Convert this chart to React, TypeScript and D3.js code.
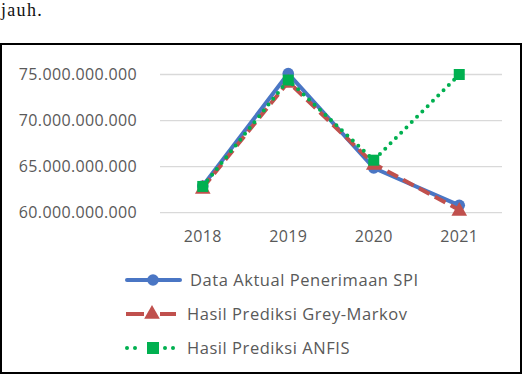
import React from "react";
import * as d3 from "d3";

const years = ["2018", "2019", "2020", "2021"];
const aktual = [62.9e9, 75.1e9, 64.85e9, 60.8e9];
const greyMarkov = [62.7e9, 74.2e9, 65.3e9, 60.3e9];
const anfis = [62.85e9, 74.4e9, 65.7e9, 75.0e9];
const yTicks = [60e9, 65e9, 70e9, 75e9];
const legendLabels = [
  "Data Aktual Penerimaan SPI",
  "Hasil Prediksi Grey-Markov",
  "Hasil Prediksi ANFIS",
];

const BLUE = "#4A76C4";
const RED = "#C0504D";
const GREEN = "#00B050";
const FONT = "'Open Sans', 'Noto Sans', sans-serif";

function fmt(v: number) {
  return d3.format(",")(v).replace(/,/g, ".");
}

export default function App() {
  const x = d3.scaleBand<string>().domain(years).range([160, 502]);
  const y = d3.scaleLinear().domain([60e9, 75e9]).range([212.7, 74.5]);
  const cx = (d: string) => (x(d) as number) + x.bandwidth() / 2;
  const line = d3
    .line<number>()
    .x((_, i) => cx(years[i]))
    .y((v) => y(v));

  const tri = (px: number, py: number, s: number) =>
    `M${px},${py - s * 0.62} L${px + s * 0.6},${py + s * 0.45} L${px - s * 0.6},${py + s * 0.45} Z`;

  return (
    <svg
      width={526}
      height={376}
      style={{ position: "absolute", left: 0, top: 0, background: "#fff" }}
    >
      <text
        x={1}
        y={16}
        fontFamily="'Liberation Serif', serif"
        fontSize={18}
        letterSpacing={1.3}
        fill="#111"
      >
        jauh.
      </text>
      <rect x={1} y={44} width={520} height={329} fill="none" stroke="#000" strokeWidth={2} />

      {yTicks.map((t) => (
        <g key={t}>
          <line x1={160} x2={502} y1={y(t)} y2={y(t)} stroke="#D9D9D9" strokeWidth={1.3} />
          <text
            x={137}
            y={y(t)}
            dy="0.36em"
            textAnchor="end"
            fontFamily={FONT}
            fontSize={16}
            letterSpacing={0.35}
            fill="#595959"
          >
            {fmt(t)}
          </text>
        </g>
      ))}

      {years.map((yr) => (
        <text
          key={yr}
          x={cx(yr)}
          y={242}
          textAnchor="middle"
          fontFamily={FONT}
          fontSize={16}
          letterSpacing={0.3}
          fill="#595959"
        >
          {yr}
        </text>
      ))}

      {/* Actual */}
      <path d={line(aktual) || ""} fill="none" stroke={BLUE} strokeWidth={4} strokeLinejoin="round" />
      {aktual.map((v, i) => (
        <circle key={i} cx={cx(years[i])} cy={y(v)} r={5.8} fill={BLUE} />
      ))}

      {/* Grey-Markov */}
      <path
        d={line(greyMarkov) || ""}
        fill="none"
        stroke={RED}
        strokeWidth={4}
        strokeDasharray="12 6"
      />
      {greyMarkov.map((v, i) => (
        <path key={i} d={tri(cx(years[i]), y(v), 13)} fill={RED} />
      ))}

      {/* ANFIS */}
      <path
        d={line(anfis) || ""}
        fill="none"
        stroke={GREEN}
        strokeWidth={4}
        strokeDasharray="0 7.5"
        strokeLinecap="round"
      />
      {anfis.map((v, i) => (
        <rect key={i} x={cx(years[i]) - 5.5} y={y(v) - 5.5} width={11} height={11} fill={GREEN} />
      ))}

      {/* Legend */}
      {legendLabels.map((lab, i) => {
        const ly = 280 + i * 34;
        const mx = 153;
        return (
          <g key={lab}>
            {i === 0 && (
              <>
                <line x1={127} x2={180} y1={ly} y2={ly} stroke={BLUE} strokeWidth={4} strokeLinecap="round" />
                <circle cx={mx} cy={ly} r={5.8} fill={BLUE} />
              </>
            )}
            {i === 1 && (
              <>
                <line x1={126} x2={144} y1={ly} y2={ly} stroke={RED} strokeWidth={4} />
                <line x1={160} x2={176} y1={ly} y2={ly} stroke={RED} strokeWidth={4} />
                <path d={tri(mx - 1, ly - 1, 13)} fill={RED} />
              </>
            )}
            {i === 2 && (
              <>
                {[127, 135, 165, 173].map((dx) => (
                  <circle key={dx} cx={dx} cy={ly} r={2} fill={GREEN} />
                ))}
                <rect x={mx - 6} y={ly - 6} width={12} height={12} fill={GREEN} />
              </>
            )}
            <text
              x={i === 0 ? 190 : 187}
              y={ly}
              dy="0.36em"
              fontFamily={FONT}
              fontSize={16.5}
              letterSpacing={0.55}
              fill="#595959"
            >
              {lab}
            </text>
          </g>
        );
      })}
    </svg>
  );
}
